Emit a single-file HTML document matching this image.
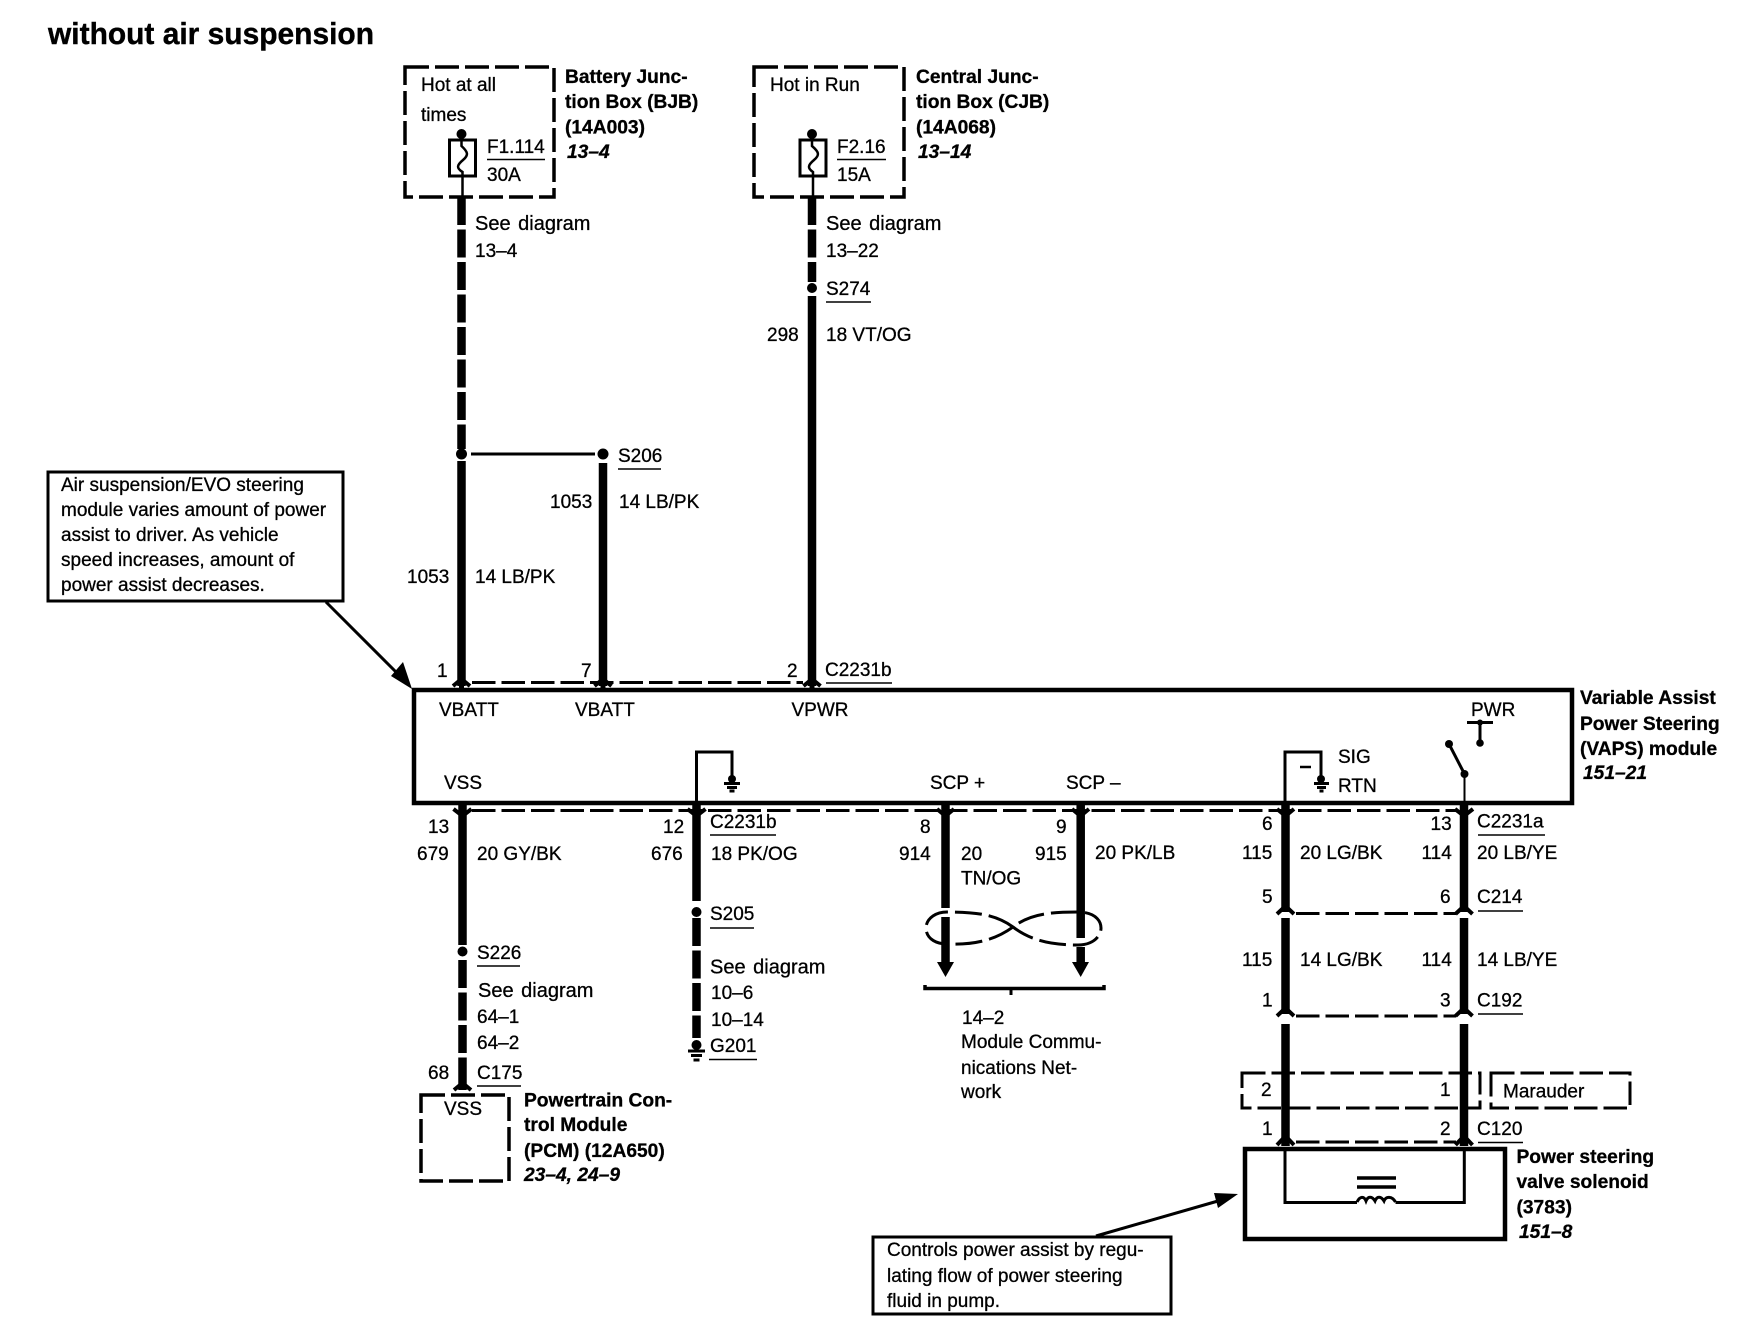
<!DOCTYPE html>
<html><head><meta charset="utf-8"><title>without air suspension</title>
<style>
html,body{margin:0;padding:0;background:#fff}
svg{display:block}
text{font-family:"Liberation Sans",sans-serif;font-size:19px;fill:#000;stroke:#000;stroke-width:.3px;transform:translateY(-1px)}
.b{font-weight:bold;font-size:19.2px}
.i{font-weight:bold;font-style:italic;font-size:19.2px}
.t{font-weight:bold;font-size:31px;stroke-width:.4px;transform:none}
.s{font-size:20px;word-spacing:2px}
.w{fill:none;stroke:#000;stroke-width:8.5}
.d{fill:none;stroke:#000;stroke-width:8.5;stroke-dasharray:28 4.5}
.box{fill:none;stroke:#000;stroke-width:4}
.dbox{fill:none;stroke:#000;stroke-width:3.5;stroke-dasharray:24 6}
.cd{fill:none;stroke:#000;stroke-width:3;stroke-dasharray:23.5 6}
.l{fill:none;stroke:#000;stroke-width:3}
.u{fill:none;stroke:#000;stroke-width:1.6}
.c{fill:none;stroke:#000;stroke-width:4}
</style></head><body>
<svg xmlns="http://www.w3.org/2000/svg" width="1748" height="1344" viewBox="0 0 1748 1344">
<rect width="1748" height="1344" fill="#fff"/>
<text class="t" x="48" y="44" textLength="326" lengthAdjust="spacingAndGlyphs">without air suspension</text>

<!-- BJB -->
<rect class="dbox" x="405" y="67" width="149" height="130"/>
<text x="421" y="92">Hot at all</text><text x="421" y="122">times</text>
<circle cx="461.500" cy="134" r="5"/>
<rect x="449.500" y="140" width="26" height="36" fill="none" stroke="#000" stroke-width="3"/>
<path fill="none" stroke="#000" stroke-width="2.500" d="M461.500 134V146C468 152 469 155 463 160C457 165 456 168 462.500 172V197"/>
<text x="487" y="154">F1.114</text><path class="u" d="M487 159.500H545"/><text x="487" y="182">30A</text>
<text class="b" x="565" y="84">Battery Junc-</text><text class="b" x="565" y="109">tion Box (BJB)</text><text class="b" x="565" y="134.500">(14A003)</text><text class="i" x="567" y="159">13–4</text>

<!-- CJB -->
<rect class="dbox" x="754" y="67" width="150" height="130"/>
<text x="770" y="92">Hot in Run</text>
<circle cx="812" cy="134" r="5"/>
<rect x="800" y="140" width="26" height="36" fill="none" stroke="#000" stroke-width="3"/>
<path fill="none" stroke="#000" stroke-width="2.500" d="M812 134V146C819 152 820 155 814 160C808 165 807 168 813 172V197"/>
<text x="837" y="154">F2.16</text><path class="u" d="M837 159.500H886"/><text x="837" y="182">15A</text>
<text class="b" x="916" y="84">Central Junc-</text><text class="b" x="916" y="109">tion Box (CJB)</text><text class="b" x="916" y="134.500">(14A068)</text><text class="i" x="918" y="159">13–14</text>

<!-- top wires -->
<path class="d" d="M461.500 197V449"/>
<circle cx="461.500" cy="454" r="5.500"/>
<path class="w" d="M461.500 461V686"/>
<path class="l" d="M471 454H595"/>
<circle cx="603" cy="454" r="5.500"/>
<path class="w" d="M603 463V686"/>
<path class="d" d="M812 197V282"/>
<circle cx="812" cy="288" r="5"/>
<path class="w" d="M812 296V686"/>

<text class="s" x="475" y="231">See diagram</text><text x="475" y="258">13–4</text>
<text class="s" x="826" y="231">See diagram</text><text x="826" y="258">13–22</text>
<text x="826" y="296">S274</text><path class="u" d="M826 302H871"/>
<text x="767" y="342">298</text><text x="826" y="342">18 VT/OG</text>
<text x="618" y="463">S206</text><path class="u" d="M618 469H661"/>
<text x="550" y="509">1053</text><text x="619" y="509">14 LB/PK</text>
<text x="407" y="584">1053</text><text x="475" y="584">14 LB/PK</text>

<!-- Callout 1 -->
<rect x="48" y="472" width="295" height="129" fill="none" stroke="#000" stroke-width="3"/>
<text x="61" y="492">Air suspension/EVO steering</text>
<text x="61" y="517">module varies amount of power</text>
<text x="61" y="542">assist to driver. As vehicle</text>
<text x="61" y="567">speed increases, amount of</text>
<text x="61" y="592">power assist decreases.</text>
<path class="l" d="M326 602L402 678"/>
<path d="M412 689L391 676L403 662Z"/>

<!-- top connector -->
<path class="cd" d="M472 682.500H803"/>
<path class="c" d="M453 686L461.500 679L470 686M594.500 686L603 679L611.500 686M803.500 686L812 679L820.500 686"/>
<path d="M461.500 682V690M603 682V690M812 682V690" stroke="#000" stroke-width="5"/>
<text x="437" y="678">1</text><text x="581" y="678">7</text><text x="787" y="678">2</text>
<text x="825" y="677">C2231b</text><path class="u" d="M826 683H892"/>

<!-- module -->
<rect x="414" y="690" width="1158" height="113" fill="none" stroke="#000" stroke-width="4.500"/>
<text x="439" y="717">VBATT</text><text x="575" y="717">VBATT</text><text x="791.500" y="717">VPWR</text>
<text x="444" y="790">VSS</text>
<path class="l" d="M696.500 803V752H732V778"/>
<circle cx="732" cy="779" r="4"/>
<path class="l" d="M724 783.500H740M727 787.500H737M729.500 791H734.500"/>
<text x="930" y="790">SCP +</text><text x="1066" y="790">SCP –</text>
<path class="l" d="M1285 803V752H1321V778"/>
<circle cx="1321" cy="779" r="4"/>
<path class="l" d="M1314 783.500H1329M1317 787.500H1326M1319.500 791H1323.500"/>
<path d="M1300 767H1311" stroke="#000" stroke-width="2.500"/>
<text x="1338" y="764">SIG</text><text x="1338" y="793">RTN</text>
<text x="1471" y="717">PWR</text>
<path class="l" d="M1467 722.500H1493"/><path class="l" d="M1480 722V742"/>
<circle cx="1480" cy="743" r="3.800"/><circle cx="1480" cy="722.500" r="3"/>
<circle cx="1449" cy="744" r="4"/><path class="l" d="M1449 744L1464.500 774"/><circle cx="1464.500" cy="774" r="4"/>
<path d="M1464.500 774V808" stroke="#000" stroke-width="2"/>
<text class="b" x="1580" y="705">Variable Assist</text><text class="b" x="1580" y="731">Power Steering</text><text class="b" x="1580" y="756">(VAPS) module</text><text class="i" x="1583" y="780">151–21</text>

<!-- bottom connector -->
<path class="cd" d="M472 810.500H1456"/>
<path class="c" d="M453.500 809L462.500 816L471.500 809M687.500 809L696.500 816L705.500 809M937 809L945.500 816L954 809M1072 809L1080.500 816L1089 809M1277 809L1285.500 816L1294 809M1455 809L1464 816L1473 809"/>

<!-- lower wires -->
<path class="w" d="M462.500 805V945"/><circle cx="462.500" cy="951.500" r="5"/>
<path class="d" d="M462.500 960V1083"/>
<path class="w" d="M462.500 1083V1090"/><path class="c" d="M454 1090L462.500 1083L471 1090"/>
<path class="w" d="M696.500 805V901"/><circle cx="696.500" cy="912" r="5"/>
<path class="d" d="M696.500 918V1038"/><circle cx="696.500" cy="1045" r="5"/>
<path class="l" d="M688 1051H705M691 1055.500H702M693.500 1060H699.500"/>

<text x="428" y="834">13</text><text x="417" y="861">679</text><text x="477" y="861">20 GY/BK</text>
<text x="477" y="960">S226</text><path class="u" d="M477 966H520"/>
<text class="s" x="478" y="998">See diagram</text><text x="477" y="1024">64–1</text><text x="477" y="1050">64–2</text>
<text x="428" y="1080">68</text><text x="477" y="1080">C175</text><path class="u" d="M477 1086H521"/>
<rect class="dbox" x="421" y="1095" width="88" height="86"/>
<text x="444" y="1116">VSS</text>
<text class="b" x="524" y="1107.500">Powertrain Con-</text><text class="b" x="524" y="1132">trol Module</text><text class="b" x="524" y="1158">(PCM) (12A650)</text><text class="i" x="524" y="1182">23–4, 24–9</text>

<text x="663" y="834">12</text><text x="651" y="861">676</text>
<text x="710" y="829">C2231b</text><path class="u" d="M710 835H776"/>
<text x="711" y="861">18 PK/OG</text>
<text x="710" y="921">S205</text><path class="u" d="M710 928H754"/>
<text class="s" x="710" y="974.500">See diagram</text><text x="711" y="1000">10–6</text><text x="711" y="1027">10–14</text>
<text x="710" y="1053">G201</text><path class="u" d="M709 1059.500H757"/>

<!-- SCP wires -->
<path class="w" d="M945.500 805V908"/><path class="w" stroke-width="7.500" d="M945.500 917V964"/>
<path d="M937 962H954L945.500 977Z"/>
<path class="w" d="M1080.700 805V938"/><path class="w" stroke-width="7.500" d="M1080.700 947V964"/>
<path d="M1072 962H1089L1080.700 977Z"/>
<path fill="none" stroke="#000" stroke-width="3" stroke-dasharray="27 7" d="M1013 927C995 914 975 912 947 912C934 912 926 920 926 928C926 937 934 944 947 944C975 945 995 940 1013 927C1030 914 1050 912 1078 912C1094 912 1101 920 1101 928C1101 937 1092 945 1078 945C1050 945 1030 940 1013 927"/>
<path fill="none" stroke="#000" stroke-width="3.500" d="M925 985V988.500H1104V985"/><path class="l" d="M1011 988V995"/>
<text x="920" y="834">8</text><text x="899" y="861">914</text><text x="961" y="861">20</text><text x="961" y="885.500">TN/OG</text>
<text x="1056" y="834">9</text><text x="1035" y="861">915</text><text x="1095" y="860">20 PK/LB</text>
<text x="962" y="1025">14–2</text><text x="961" y="1049">Module Commu-</text><text x="961" y="1075">nications Net-</text><text x="961" y="1099">work</text>

<!-- solenoid wires -->
<path class="w" d="M1285.500 805V912M1285.500 918V1014M1285.500 1024V1146"/>
<path class="w" d="M1464 805V912M1464 918V1014M1464 1024V1146"/>
<path class="cd" d="M1296 913.500H1456M1296 1016H1456M1296 1142H1456"/>
<path class="c" d="M1277 914L1285.500 906L1294 914M1455.500 914L1464 906L1472.500 914M1277 1016L1285.500 1008L1294 1016M1455.500 1016L1464 1008L1472.500 1016M1277 1145L1285.500 1136L1294 1145M1455.500 1145L1464 1136L1472.500 1145"/>
<rect class="cd" x="1242" y="1073" width="238" height="35"/>
<rect class="cd" x="1491" y="1073" width="139" height="35"/>
<rect x="1245" y="1149" width="260" height="90" fill="none" stroke="#000" stroke-width="4.500"/>
<path class="l" d="M1285 1149V1202.500H1357M1395.500 1202.500H1464.300V1149"/>
<path class="l" d="M1357 1202C1360 1196 1364 1196 1366 1201C1368 1196 1372 1196 1375 1201C1377 1196 1381 1196 1384 1201C1386 1196 1392 1196 1395.500 1202"/>
<path fill="none" stroke="#000" stroke-width="3.500" d="M1357 1178H1396M1357 1187H1396"/>
<text x="1262" y="831">6</text><text x="1242" y="860">115</text><text x="1300" y="860">20 LG/BK</text>
<text x="1262" y="904">5</text><text x="1242" y="967">115</text><text x="1300" y="967">14 LG/BK</text><text x="1262" y="1007.500">1</text>
<text x="1430.500" y="831">13</text><text x="1421.500" y="860">114</text>
<text x="1477" y="828.500">C2231a</text><path class="u" d="M1478 835H1545"/><text x="1477" y="860">20 LB/YE</text>
<text x="1440" y="904">6</text><text x="1477" y="904">C214</text><path class="u" d="M1478 911H1523"/>
<text x="1421.500" y="967">114</text><text x="1477" y="967">14 LB/YE</text>
<text x="1440" y="1007.500">3</text><text x="1477" y="1007.500">C192</text><path class="u" d="M1478 1014H1523"/>
<text x="1261" y="1097">2</text><text x="1440" y="1097">1</text><text x="1503" y="1098.500">Marauder</text>
<text x="1262" y="1136">1</text><text x="1440" y="1136">2</text><text x="1477" y="1136">C120</text><path class="u" d="M1478 1142.500H1523"/>
<text class="b" x="1516.500" y="1164">Power steering</text><text class="b" x="1516.500" y="1189">valve solenoid</text><text class="b" x="1516.500" y="1214.500">(3783)</text><text class="i" x="1519" y="1239">151–8</text>

<!-- Callout 2 -->
<rect x="873" y="1237" width="298" height="77" fill="none" stroke="#000" stroke-width="3"/>
<text x="887" y="1257">Controls power assist by regu-</text>
<text x="887" y="1283">lating flow of power steering</text>
<text x="887" y="1308">fluid in pump.</text>
<path class="l" d="M1096 1236L1218 1201"/>
<path d="M1238 1194L1214 1193L1218 1208Z"/>
</svg>
</body></html>
